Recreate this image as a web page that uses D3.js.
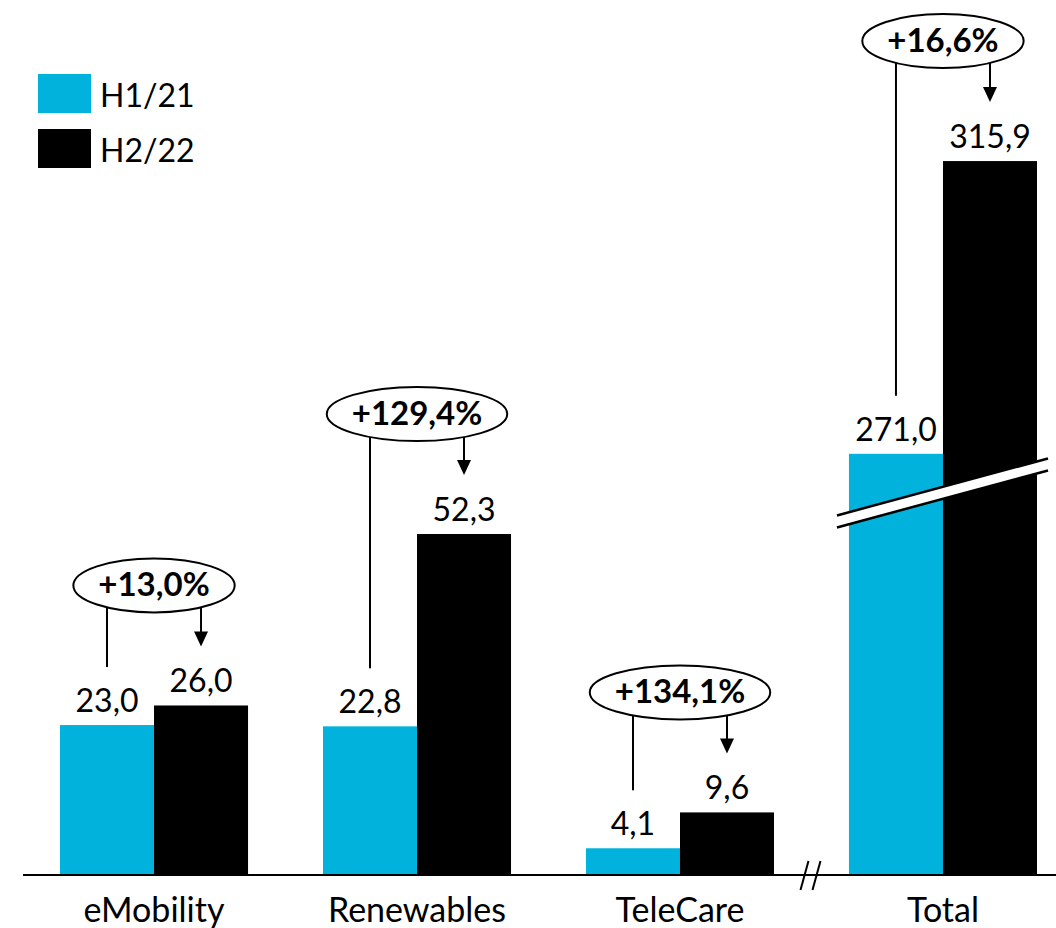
<!DOCTYPE html>
<html>
<head>
<meta charset="utf-8">
<script src="https://cdn.jsdelivr.net/npm/d3@7"></script>
<style>
  body { margin: 0; background: #fff; }
  svg text { font-family: Lato, "Open Sans", sans-serif; fill: #000; }
</style>
</head>
<body>
<svg id="chart" width="1056" height="928"></svg>
<script>
// data
const categories = ["eMobility", "Renewables", "TeleCare", "Total"];
const series = ["H1/21", "H2/22"];
const h1Values = [23.0, 22.8, 4.1, 271.0];
const h2Values = [26.0, 52.3, 9.6, 315.9];
const growthLabels = ["+13,0%", "+129,4%", "+134,1%", "+16,6%"];
const brokenCategory = "Total";
const axisBreakAmount = 206.4; // value cut out of the Total bars

const colors = {"H1/21": "#00b2dc", "H2/22": "#000000"};
const fmt = v => d3.format(".1f")(v).replace(".", ",");

const svg = d3.select("#chart");
const baseY = 875;

const x = d3.scaleBand()
  .domain(categories)
  .range([22.5, 1074.5])
  .paddingInner(0.285)
  .paddingOuter(0.1426);

const xs = d3.scaleBand()
  .domain(series)
  .range([0, x.bandwidth()]);

const y = d3.scaleLinear()
  .domain([0, 100])
  .range([baseY, baseY - 652]);

const rows = categories.map((c, i) => ({
  cat: c,
  values: [h1Values[i], h2Values[i]],
  growth: growthLabels[i]
}));

function shown(cat, v){
  return cat === brokenCategory ? v - axisBreakAmount : v;
}

// bars
const groups = svg.selectAll("g.grp")
  .data(rows)
  .join("g")
  .attr("class", "grp")
  .attr("transform", d => `translate(${x(d.cat)},0)`);

groups.selectAll("rect")
  .data(d => d.values.map((v, j) => ({cat: d.cat, key: series[j], v: v})))
  .join("rect")
  .attr("x", d => xs(d.key))
  .attr("width", xs.bandwidth())
  .attr("y", d => y(shown(d.cat, d.v)))
  .attr("height", d => baseY - y(shown(d.cat, d.v)))
  .attr("fill", d => colors[d.key]);

// value labels
groups.selectAll("text.val")
  .data(d => d.values.map((v, j) => ({cat: d.cat, key: series[j], v: v})))
  .join("text")
  .attr("class", "val")
  .attr("x", d => xs(d.key) + xs.bandwidth() / 2)
  .attr("y", d => y(shown(d.cat, d.v)) - 13)
  .attr("text-anchor", "middle")
  .style("font-size", "32px")
  .text(d => fmt(d.v));

// axis break on the Total bars
{
  const gx = x(brokenCategory);
  const cyanTop = y(shown(brokenCategory, h1Values[categories.indexOf(brokenCategory)]));
  const x0 = gx - 12, x1 = gx + x.bandwidth() + 11;
  const cx = gx + x.bandwidth() / 2;
  const yc = cyanTop + 39;
  const slope = -57 / 211;
  const yAt = (xx, off) => yc + (xx - cx) * slope + off;
  svg.append("polygon")
    .attr("points", [[x0, yAt(x0, -6)], [x1, yAt(x1, -6)], [x1, yAt(x1, 6)], [x0, yAt(x0, 6)]].join(" "))
    .attr("fill", "#fff");
  [-6, 6].forEach(off => {
    svg.append("line")
      .attr("x1", x0).attr("y1", yAt(x0, off))
      .attr("x2", x1).attr("y2", yAt(x1, off))
      .attr("stroke", "#000").attr("stroke-width", 2.5);
  });
}

// growth bubbles
rows.forEach(d => {
  const gx = x(d.cat);
  const c1 = gx + xs("H1/21") + xs.bandwidth() / 2;
  const c2 = gx + xs("H2/22") + xs.bandwidth() / 2;
  const top1 = y(shown(d.cat, d.values[0]));
  const top2 = y(shown(d.cat, d.values[1]));
  const tip = top2 - 59;
  const cy = tip - 61;
  const cx = gx + x.bandwidth() / 2;
  const g = svg.append("g");
  const ell = g.append("ellipse").attr("cx", cx).attr("cy", cy).attr("ry", 27)
    .attr("fill", "#fff").attr("stroke", "#000").attr("stroke-width", 2);
  const t = g.append("text")
    .attr("x", cx).attr("y", cy + 11)
    .attr("text-anchor", "middle")
    .style("font-size", "33px").style("font-weight", "bold")
    .text(d.growth);
  const rx = t.node().getComputedTextLength() / 2 + 25;
  ell.attr("rx", rx);
  const edge = xx => cy + 27 * Math.sqrt(Math.max(0, 1 - Math.pow((xx - cx) / rx, 2)));

  g.append("line")
    .attr("x1", c1).attr("y1", edge(c1))
    .attr("x2", c1).attr("y2", top1 - 58)
    .attr("stroke", "#000").attr("stroke-width", 2);
  g.append("line")
    .attr("x1", c2).attr("y1", edge(c2))
    .attr("x2", c2).attr("y2", tip - 12)
    .attr("stroke", "#000").attr("stroke-width", 2);
  g.append("path")
    .attr("d", `M${c2 - 7},${tip - 15}L${c2 + 7},${tip - 15}L${c2},${tip}Z`)
    .attr("fill", "#000");
});

// baseline + break marks
svg.append("line")
  .attr("x1", 23).attr("x2", 1056)
  .attr("y1", baseY).attr("y2", baseY)
  .attr("stroke", "#000").attr("stroke-width", 2);

{
  const bx = (x("TeleCare") + x.bandwidth() + x("Total")) / 2;
  [-6, 6].forEach(off => {
    svg.append("line")
      .attr("x1", bx + off - 5).attr("y1", baseY + 15)
      .attr("x2", bx + off + 3).attr("y2", baseY - 14)
      .attr("stroke", "#000").attr("stroke-width", 2);
  });
}

// category labels
svg.selectAll("text.cat")
  .data(categories)
  .join("text")
  .attr("class", "cat")
  .attr("x", d => x(d) + x.bandwidth() / 2)
  .attr("y", 922)
  .attr("text-anchor", "middle")
  .style("font-size", "34px")
  .text(d => d);

// legend
const legend = svg.append("g").attr("transform", "translate(38,74)");
series.forEach((s, i) => {
  legend.append("rect")
    .attr("x", 0).attr("y", i * 55)
    .attr("width", 53).attr("height", 39)
    .attr("fill", colors[s]);
  legend.append("text")
    .attr("x", 62).attr("y", i * 55 + 33)
    .style("font-size", "32px")
    .text(s);
});
</script>
</body>
</html>
